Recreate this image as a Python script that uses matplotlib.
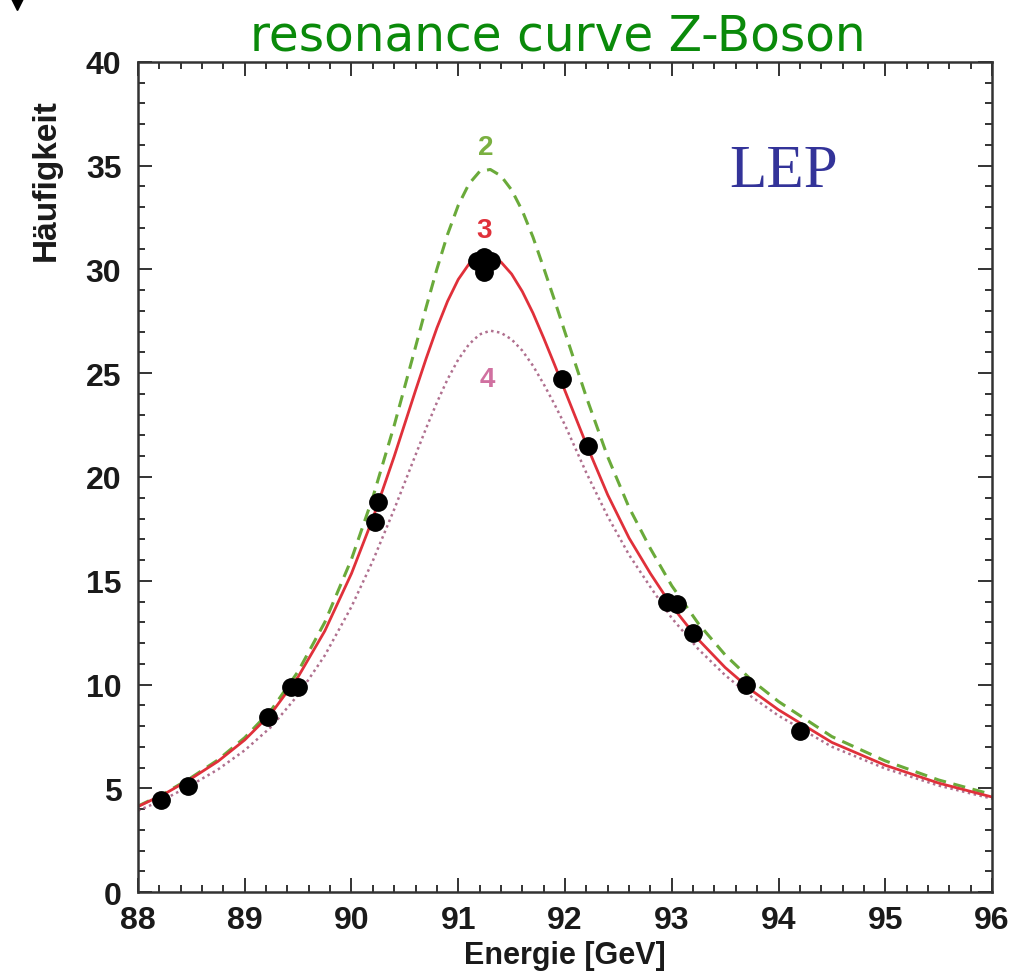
import numpy as np
import matplotlib
matplotlib.use("Agg")
import matplotlib.pyplot as plt
from matplotlib.ticker import MultipleLocator
from matplotlib.lines import Line2D

# Energy grid for the curves (GeV)
curve_e = [88.0, 88.25, 88.5, 88.75, 89.0, 89.25, 89.5, 89.75, 90.0, 90.2, 90.4,
           90.6, 90.7, 90.8, 90.9, 91.0, 91.1, 91.2, 91.3, 91.4, 91.5, 91.6, 91.7,
           91.8, 91.9, 92.0, 92.2, 92.4, 92.6, 92.8, 93.0, 93.25, 93.5, 93.75,
           94.0, 94.5, 95.0, 95.5, 96.0]

# 2 neutrino families (green dashed)
curve_2 = [4.14, 4.76, 5.52, 6.37, 7.44, 8.78, 10.63, 13.00, 16.04, 19.02, 22.48,
           26.27, 28.19, 30.02, 31.69, 33.09, 34.12, 34.72, 34.82, 34.51, 33.83,
           32.83, 31.56, 30.08, 28.55, 26.97, 23.85, 20.97, 18.53, 16.55, 14.76,
           12.93, 11.43, 10.20, 9.18, 7.49, 6.32, 5.40, 4.70]

# 3 neutrino families (red solid)
curve_3 = [4.12, 4.73, 5.47, 6.30, 7.33, 8.62, 10.37, 12.58, 15.35, 18.00, 20.99,
           24.17, 25.72, 27.18, 28.47, 29.52, 30.26, 30.65, 30.66, 30.36, 29.78,
           28.94, 27.90, 26.70, 25.44, 24.15, 21.57, 19.14, 17.06, 15.35, 13.79,
           12.16, 10.82, 9.71, 8.78, 7.21, 6.11, 5.25, 4.58]

# 4 neutrino families (dotted)
curve_4 = [3.92, 4.48, 5.16, 5.91, 6.83, 7.97, 9.50, 11.40, 13.75, 15.96, 18.44,
           21.06, 22.36, 23.59, 24.71, 25.66, 26.39, 26.87, 27.05, 26.95, 26.63,
           26.09, 25.36, 24.48, 23.52, 22.50, 20.20, 18.10, 16.25, 14.70, 13.20,
           11.70, 10.45, 9.40, 8.50, 7.00, 5.95, 5.13, 4.50]

# measured points
meas_e = [88.22, 88.47, 89.22, 89.43, 89.50, 90.22, 90.25, 91.18, 91.31, 91.24,
          91.24, 91.97, 92.22, 92.96, 93.05, 93.20, 93.70, 94.20]
meas_n = [4.43, 5.09, 8.42, 9.88, 9.88, 17.85, 18.81, 30.4, 30.4, 30.6,
          29.9, 24.7, 21.5, 14.0, 13.9, 12.5, 10.0, 7.77]

SANS = ["Liberation Sans", "DejaVu Sans"]

fig = plt.figure(figsize=(10.13, 9.79), dpi=100)
ax = fig.add_axes([0.1362, 0.0878, 0.8431, 0.8479])

ax.plot(curve_e, curve_2, color="#6aaa3a", lw=2.2, ls=(0, (4, 2.5)))
ax.plot(curve_e, curve_4, color="#b0708f", lw=1.8, ls=(0, (1, 1.4)))
ax.plot(curve_e, curve_3, color="#e0303a", lw=2.0)
ax.plot(meas_e, meas_n, "o", color="black", ms=12.5, zorder=5)

ax.text(91.26, 35.9, "2", color="#7ab040", fontsize=20, fontweight="bold",
        ha="center", va="center", family=SANS)
ax.text(91.24, 31.9, "3", color="#e0303a", fontsize=20, fontweight="bold",
        ha="center", va="center", family=SANS)
ax.text(91.27, 24.7, "4", color="#d070a0", fontsize=20, fontweight="bold",
        ha="center", va="center", family=SANS)
ax.text(94.05, 34.75, "LEP", color="#333399", fontsize=44,
        ha="center", va="center", family="Liberation Serif")

ax.set_xlim(88, 96)
ax.set_ylim(0, 40)
ax.xaxis.set_major_locator(MultipleLocator(1))
ax.xaxis.set_minor_locator(MultipleLocator(0.2))
ax.yaxis.set_major_locator(MultipleLocator(5))
ax.yaxis.set_minor_locator(MultipleLocator(1))
ax.tick_params(which="both", direction="in", top=True, right=True,
               color="#333333", width=1.4)
ax.tick_params(which="major", length=10, labelsize=23)
ax.tick_params(which="minor", length=5)
ax.tick_params(axis="x", pad=9)
ax.tick_params(axis="y", pad=12)
for lab in ax.get_xticklabels() + ax.get_yticklabels():
    lab.set_family(SANS)
    lab.set_fontweight("bold")
    lab.set_color("#1a1a1a")
for sp in ax.spines.values():
    sp.set_linewidth(1.8)
    sp.set_color("#333333")

ax.set_xlabel("Energie [GeV]", fontsize=22, fontweight="bold", family=SANS,
              color="#1a1a1a")
ax.xaxis.set_label_coords(0.5, -0.058)
ax.set_ylabel("Häufigkeit", fontsize=24, fontweight="bold", family=SANS,
              color="#1a1a1a")
ax.yaxis.set_label_coords(-0.089, 0.859)

fig.text(0.551, 0.963, "resonance curve Z-Boson", color="#0a8a0a",
         fontsize=35, ha="center", va="center", family="DejaVu Sans")

# leftover bullet from the slide, top-left corner
fig.add_artist(Line2D([0.017], [0.997], marker="v", ms=11, color="black",
                      transform=fig.transFigure))

fig.savefig("out.png", dpi=100)
